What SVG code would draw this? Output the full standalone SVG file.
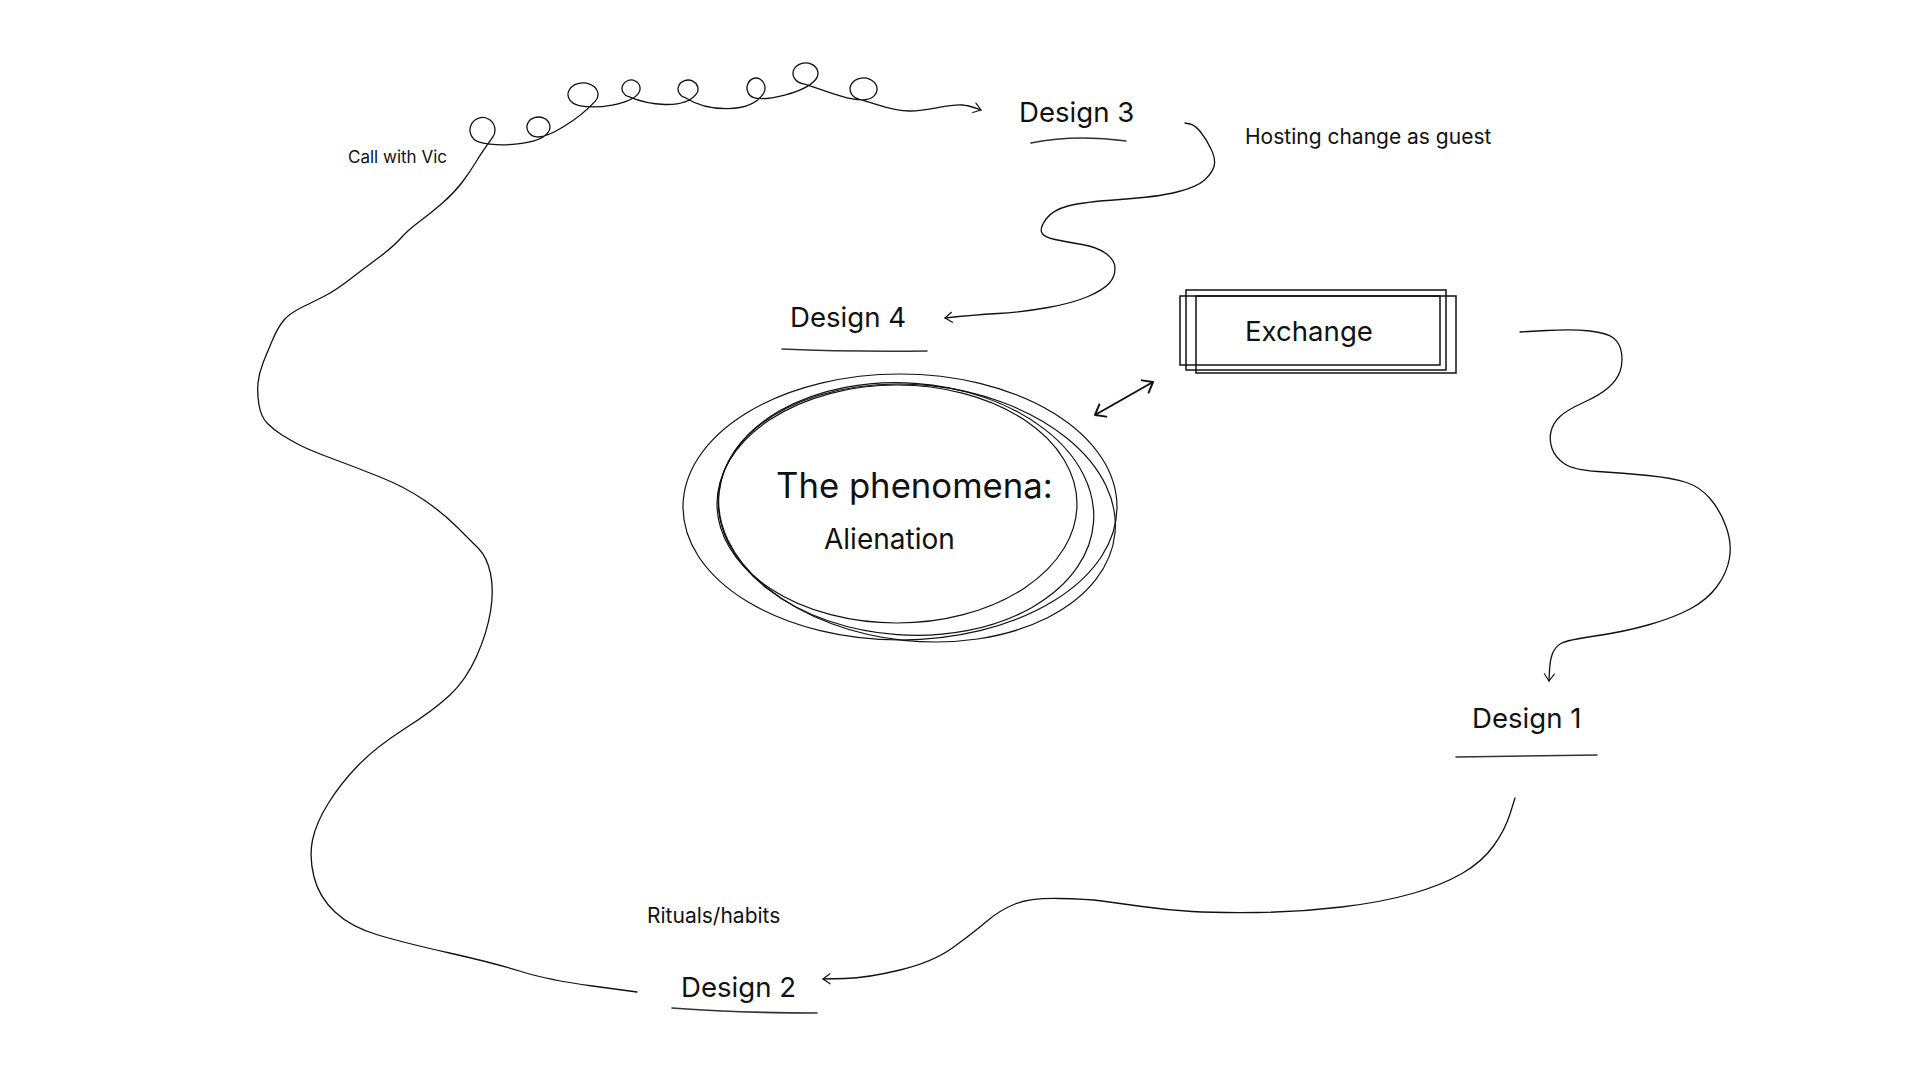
<svg xmlns="http://www.w3.org/2000/svg" width="1920" height="1080" viewBox="0 0 1920 1080">
<defs>
<style>
text{font-family:Inter,"Liberation Sans",sans-serif;fill:#111}
.lbl{font-size:27.6px}
.small{font-size:21px}
.conn{fill:none;stroke:#111;stroke-width:1.3;stroke-linecap:round;stroke-linejoin:round}
.ul{fill:none;stroke:#333;stroke-width:1.6;stroke-linecap:round}
.ell{fill:none;stroke:#111;stroke-width:1.2}
.box{fill:none;stroke:#111;stroke-width:1.5}
</style>
<marker id="ah" viewBox="-10 -7 12 14" refX="0" refY="0" markerWidth="12" markerHeight="14" markerUnits="userSpaceOnUse" orient="auto">
<path d="M-7,-5 L0,0 L-7,5" fill="none" stroke="#111" stroke-width="1.2" stroke-linecap="round" stroke-linejoin="round"/>
</marker>
<marker id="ah2" viewBox="-12 -9 14 18" refX="0" refY="0" markerWidth="14" markerHeight="18" markerUnits="userSpaceOnUse" orient="auto-start-reverse">
<path d="M-9,-7 L0,0 L-9,7" fill="none" stroke="#111" stroke-width="2" stroke-linecap="round" stroke-linejoin="round"/>
</marker>
</defs>
<rect width="1920" height="1080" fill="#fff"/>

<g id="connectors">
<path id="c-d2-d3" class="conn" marker-end="url(#ah)" d="M 637 992 L 592.5 986 Q 548 980 521 971.5 Q 494 963 449.5 953 Q 405 943 378 935 Q 351 927 335 912 Q 319 897 314 877 Q 309 857 312.5 840 Q 316 823 328.5 803 Q 341 783 358.5 765 Q 376 747 405 728.5 Q 434 710 450 695 Q 466 680 476.5 656.5 Q 487 633 490.5 611.5 Q 494 590 490.5 573.5 Q 487 557 478.5 548.5 Q 470 540 456.5 526.5 Q 443 513 424 500 Q 405 487 380 477 Q 355 467 332 458.5 Q 309 450 299.5 445 Q 290 440 282 435 Q 274 430 267.5 423.5 Q 261 417 259 405 Q 257 393 258 383 Q 259 373 263 363 Q 267 353 272.5 340 Q 278 327 284 320 Q 290 313 303.5 306.5 Q 317 300 326.5 295 Q 336 290 349 280 Q 362 270 377.5 258.5 Q 393 247 400.5 238.5 Q 408 230 419.5 221.5 Q 431 213 442.5 203 Q 454 193 462 182.5 Q 470 172 477.5 159.5 C 480.6 154.3 488.1 143.7 492.7 137.2 A 12.5 12.5 0 1 0 479.3 142.1 C 498.6 147.2 539.3 145 547.9 132.7 A 11.5 10 0 1 0 535.5 136.7 C 547.2 139.4 578.4 119.5 595.3 101.1 A 15 11.5 0 1 0 579.1 105.6 C 596.7 109.3 630.1 104.6 638.4 93.4 A 9 8.5 0 1 0 628.7 96.7 C 648 105 684 110 696.2 94.2 A 10 9 0 1 0 685.4 97.7 C 708 112 750 114 763.4 93.7 A 9 10 0 1 0 753.7 97.7 C 765.2 101.1 804.1 93.3 815.7 79.5 A 12.5 10.5 0 1 0 802.3 83.6 C 821.8 88 862.9 109 874.6 95.3 A 13.5 11 0 1 0 860 99.6 C 875 102.8 890 111 910 111 C 930 111 947 104 962 105 C 970 105.5 975 108 981 110"/>
<path id="c-d3-d4" class="conn" marker-end="url(#ah)" d="M 1185 123 L 1190 124 Q 1195 125 1201 132.5 Q 1207 140 1211.5 150 Q 1216 160 1214 166.5 Q 1212 173 1204.5 180 Q 1197 187 1177 192 Q 1157 197 1120 199.5 Q 1083 202 1068 206 Q 1053 210 1046.5 218.5 Q 1040 227 1041.5 232 Q 1043 237 1055 239.5 Q 1067 242 1082 244.5 Q 1097 247 1106 253.5 Q 1115 260 1115 268.5 Q 1115 277 1109 283.5 Q 1103 290 1088 296.5 Q 1073 303 1048 307.5 Q 1023 312 998 313.5 Q 973 315 945 318"/>
<path id="c-ex-d1" class="conn" marker-end="url(#ah)" d="M 1520 332 L 1546.5 330.5 Q 1573 329 1590 331 Q 1607 333 1613.5 338 Q 1620 343 1621.5 353 Q 1623 363 1620 371.5 Q 1617 380 1608.5 387.5 Q 1600 395 1583.5 402.5 Q 1567 410 1560 416.5 Q 1553 423 1551 431.5 Q 1549 440 1552 448.5 Q 1555 457 1564 463.5 Q 1573 470 1598 471.5 Q 1623 473 1648 475.5 Q 1673 478 1686.5 482.5 Q 1700 487 1710 498.5 Q 1720 510 1726 526.5 Q 1732 543 1729.5 558 Q 1727 573 1717 586.5 Q 1707 600 1690 609 Q 1673 618 1648 625 Q 1623 632 1595 636 Q 1567 640 1561 643.5 Q 1555 647 1552.5 653.5 Q 1550 660 1549.5 670.5 L 1549 681"/>
<path id="c-d1-d2" class="conn" marker-end="url(#ah)" d="M 1515 798 L 1510 814 Q 1505 830 1493.5 846 Q 1482 862 1462 873.5 Q 1442 885 1412.5 893.5 Q 1383 902 1341.5 907 Q 1300 912 1258.5 912.5 Q 1217 913 1192 911.5 Q 1167 910 1142 906.5 Q 1117 903 1102 901 Q 1087 899 1058.5 898.5 Q 1030 898 1015 904 Q 1000 910 986.5 921.5 Q 973 933 953 947.5 Q 933 962 900 970 Q 867 978 845 978.5 L 823 979"/>
<line id="c-ph-ex" x1="1095" y1="415" x2="1153" y2="382" stroke="#111" stroke-width="2" marker-start="url(#ah2)" marker-end="url(#ah2)"/>
</g>

<g id="phenomena">
<ellipse class="ell" cx="900" cy="507" rx="217" ry="133"/>
<ellipse class="ell" cx="897" cy="504" rx="180" ry="119"/>
<ellipse class="ell" cx="906" cy="509" rx="188" ry="126" transform="rotate(4 906 509)"/>
<ellipse class="ell" cx="917" cy="513" rx="199" ry="128" transform="rotate(6 917 513)"/>
<text x="776" y="498" style="font-size:34.7px">The phenomena:</text>
<text x="824" y="549" style="font-size:28px">Alienation</text>
</g>

<g id="exchange">
<rect class="box" x="1186" y="290" width="260" height="80"/>
<rect class="box" x="1180" y="296" width="260" height="69"/>
<rect class="box" x="1196" y="296" width="260" height="77"/>
<text x="1245" y="341" class="lbl">Exchange</text>
</g>

<g id="design3">
<text x="1019" y="122" class="lbl">Design 3</text>
<path class="ul" d="M 1031 143 Q 1075 134 1126 141"/>
</g>

<g id="design4">
<text x="790" y="327" class="lbl">Design 4</text>
<path class="ul" d="M 782 349 Q 850 352 927 351"/>
</g>

<g id="design1">
<text x="1472" y="728" class="lbl">Design 1</text>
<path class="ul" d="M 1456 757 L 1597 755"/>
</g>

<g id="design2">
<text x="681" y="997" class="lbl">Design 2</text>
<path class="ul" d="M 672 1008 Q 740 1013 817 1013"/>
</g>

<g id="label-call">
<text x="348" y="163" style="font-size:17px">Call with Vic</text>
</g>
<g id="label-hosting">
<text x="1245" y="144" class="small">Hosting change as guest</text>
</g>
<g id="label-rituals">
<text x="647" y="923" class="small">Rituals/habits</text>
</g>
</svg>
